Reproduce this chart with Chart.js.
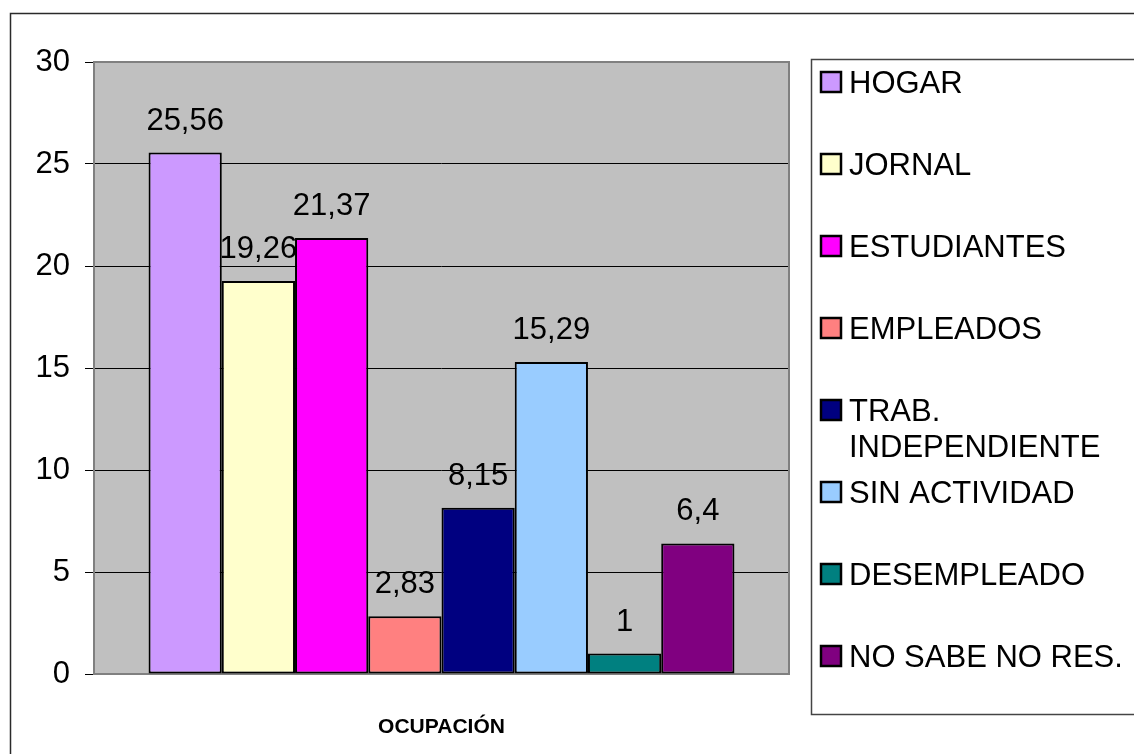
<!DOCTYPE html>
<html>
<head>
<meta charset="utf-8">
<script src="https://cdn.jsdelivr.net/npm/chart.js@4.4.1/dist/chart.umd.min.js"></script>
<style>
  html, body { margin: 0; padding: 0; background: #fff; }
  #wrap { width: 1134px; height: 754px; position: relative; }
</style>
</head>
<body>
<div id="wrap"><canvas id="chart"></canvas></div>
<script>
// datos del gráfico
const categories = ['OCUPACIÓN'];
const seriesNames = ['HOGAR', 'JORNAL', 'ESTUDIANTES', 'EMPLEADOS', 'TRAB.\nINDEPENDIENTE', 'SIN ACTIVIDAD', 'DESEMPLEADO', 'NO SABE NO RES.'];
const seriesValues = [25.56, 19.26, 21.37, 2.83, 8.15, 15.29, 1, 6.4];
const seriesColors = ['#CC99FF', '#FFFFCC', '#FF00FF', '#FF8080', '#000080', '#99CCFF', '#008080', '#800080'];
const yTicks = [0, 5, 10, 15, 20, 25, 30];

const FONT = '"Liberation Sans", Arial, sans-serif';

const datasets = seriesNames.map((name, i) => ({
  label: name,
  data: [seriesValues[i]],
  backgroundColor: seriesColors[i],
  borderColor: '#000',
  borderWidth: 2,
  borderSkipped: false,
  categoryPercentage: 0.843,
  barPercentage: 1.0,
}));

// fondo, marcos y leyenda estilo Excel
const excelLook = {
  id: 'excelLook',
  beforeDraw(chart) {
    const { ctx, chartArea: a } = chart;
    ctx.save();
    ctx.fillStyle = '#fff';
    ctx.fillRect(0, 0, chart.width, chart.height);
    ctx.fillStyle = '#C0C0C0';
    ctx.fillRect(a.left, a.top, a.right - a.left, a.bottom - a.top);
    // marco exterior
    ctx.strokeStyle = '#2a2a2a';
    ctx.lineWidth = 1.5;
    ctx.strokeRect(10.5, 13.5, chart.width + 20, chart.height + 20);
    ctx.restore();
  },
  beforeDatasetsDraw(chart) {
    const { ctx, chartArea: a } = chart;
    ctx.save();
    ctx.strokeStyle = '#808080';
    ctx.lineWidth = 2;
    ctx.strokeRect(a.left, a.top, a.right - a.left, a.bottom - a.top);
    ctx.restore();
  },
  afterDatasetsDraw(chart) {
    const { ctx } = chart;
    ctx.save();
    ctx.font = '31px ' + FONT;
    ctx.fillStyle = '#000';
    ctx.textAlign = 'center';
    ctx.textBaseline = 'alphabetic';
    chart.data.datasets.forEach((ds, i) => {
      const bar = chart.getDatasetMeta(i).data[0];
      const txt = String(ds.data[0]).replace('.', ',');
      ctx.fillText(txt, bar.x, bar.y - 23);
    });
    ctx.restore();
  },
  afterDraw(chart) {
    const { ctx } = chart;
    ctx.save();
    // caja de leyenda
    ctx.strokeStyle = '#444';
    ctx.lineWidth = 1.5;
    ctx.strokeRect(811.5, 59.5, chart.width, 655);
    ctx.font = '31px ' + FONT;
    ctx.textAlign = 'left';
    ctx.textBaseline = 'alphabetic';
    chart.data.datasets.forEach((ds, i) => {
      const cy = 82 + 82 * i;
      ctx.fillStyle = ds.backgroundColor;
      ctx.fillRect(821, cy - 10, 20, 20);
      ctx.strokeStyle = '#000';
      ctx.lineWidth = 2.5;
      ctx.strokeRect(821, cy - 10, 20, 20);
      ctx.fillStyle = '#000';
      ds.label.split('\n').forEach((line, k) => {
        ctx.fillText(line, 849, cy + 11 + k * 36);
      });
    });
    ctx.restore();
  }
};

const ctx = document.getElementById('chart');
new Chart(ctx, {
  type: 'bar',
  data: { labels: categories, datasets: datasets },
  plugins: [excelLook],
  options: {
    responsive: true,
    maintainAspectRatio: false,
    animation: false,
    layout: { padding: { top: 62, right: 345, bottom: 0, left: 0 } },
    plugins: { legend: { display: false }, tooltip: { enabled: false } },
    scales: {
      x: {
        grid: { display: false },
        border: { display: false },
        ticks: { color: '#000', font: { family: FONT, size: 21, weight: 'bold' }, padding: 33 },
        afterFit(s) { s.height = 80; }
      },
      y: {
        min: 0,
        max: 30,
        afterBuildTicks(s) { s.ticks = yTicks.map(v => ({ value: v })); },
        ticks: { color: '#000', font: { family: FONT, size: 31 }, padding: 15 },
        grid: {
          color: (c) => (c.tick && (c.tick.value === 0 || c.tick.value === 30)) ? 'rgba(0,0,0,0)' : '#000',
          tickColor: '#000',
          tickLength: 9,
          lineWidth: 1
        },
        border: { display: false },
        afterFit(s) { s.width = 94; }
      }
    }
  }
});
</script>
</body>
</html>
